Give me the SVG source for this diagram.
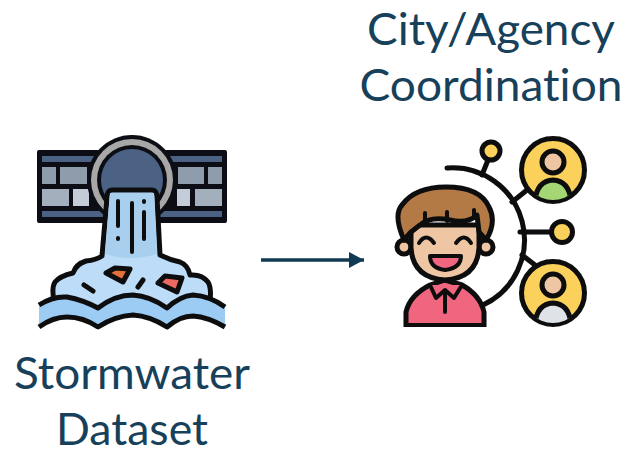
<svg xmlns="http://www.w3.org/2000/svg" width="631" height="455" viewBox="0 0 631 455">
<style>
.t{font-family:"Lato","Open Sans",sans-serif;font-size:45px;fill:#17405a;text-anchor:middle;font-variant-ligatures:none}
.k{stroke:#0b0d10;stroke-width:4;stroke-linejoin:round;stroke-linecap:round}
.n{fill:none}
.k2{stroke:#0b0d10;stroke-width:5;stroke-linejoin:round;stroke-linecap:round}
</style>
<defs>
<filter id="b" x="-5%" y="-5%" width="110%" height="110%"><feGaussianBlur stdDeviation="0.7"/></filter>
<marker id="ah" markerUnits="userSpaceOnUse" markerWidth="16" markerHeight="16" refX="15" refY="8" orient="auto"><path d="M0 0L15 8L0 16Z" fill="#0f3a52"/></marker>
<clipPath id="p1"><circle cx="553" cy="170" r="30"/></clipPath>
<clipPath id="p2"><circle cx="553" cy="293" r="30"/></clipPath>
<clipPath id="bc"><rect x="395" y="180" width="100" height="147"/></clipPath>
</defs>
<g id="stormwater-dataset">
<g filter="url(#b)">
<rect x="37" y="150" width="190" height="73" fill="#0d1116" rx="2"/>
<rect x="42" y="156" width="180" height="6" fill="#4b6285"/>
<rect x="42" y="211" width="180" height="6" fill="#4b6285"/>
<rect x="42" y="167" width="14" height="17" fill="#8f9cab"/><rect x="60" y="167" width="27" height="17" fill="#8f9cab"/>
<rect x="42" y="189" width="27" height="17" fill="#a3afbd"/><rect x="73" y="189" width="16" height="17" fill="#c4ccd8"/>
<rect x="178" y="167" width="26" height="17" fill="#8f9cab"/><rect x="208" y="167" width="14" height="17" fill="#8f9cab"/>
<rect x="177" y="189" width="13" height="17" fill="#c4ccd8"/><rect x="195" y="189" width="27" height="17" fill="#a3afbd"/>
<circle cx="132" cy="180" r="45" fill="#0d1116"/>
<circle cx="132" cy="180" r="41" fill="#a8a8a8"/>
<circle cx="132" cy="180" r="35" fill="#0d1116"/>
<circle cx="132" cy="180" r="31" fill="#4b6285"/>
<path class="k2" d="M112 190H152Q157 190 157 198L160 255Q170 260 180 262Q188 265 190 275Q202 274 208 282Q213 290 208 312L57 312Q50 290 55 282Q60 276 73 273Q76 264 86 261Q96 260 102 256L107 198Q107 190 112 190Z" fill="#bcdcf8"/>
<path d="M110 193H154L157 254Q130 262 105 254Z" fill="#a9cfee"/>
<path class="k" d="M118 201V226M118 238V239M132 203V252M144 201V202M144 212V239"/>
<path class="k2" d="M106 273L115 268L130 269L123 282Z" fill="#e2703a"/>
<path class="k2" d="M158 283L165 276L182 278L177 292Z" fill="#ea6a5e"/>
<path class="k2" d="M84 285L93 291M143 280L138 287"/>
<path d="M39 305Q53 296 67 297Q83 300 98 308Q115 295 133 295Q150 296 167 308Q180 296 193 295Q210 296 225 307V327Q208 317 193 316Q180 316 167 327Q150 316 133 315Q115 316 98 327Q83 317 67 317Q53 317 39 327Z" fill="#9ccbf4"/>
<path class="k2 n" style="stroke-linecap:butt" d="M39 305Q53 296 67 297Q83 300 98 308Q115 295 133 295Q150 296 167 308Q180 296 193 295Q210 296 225 307"/>
<path class="k2 n" style="stroke-linecap:butt" d="M225 327Q208 317 193 316Q180 316 167 327Q150 316 133 315Q115 316 98 327Q83 317 67 317Q53 317 39 327"/>
</g>
<text class="t" x="132" y="389" textLength="236" lengthAdjust="spacingAndGlyphs">Stormwater</text>
<text class="t" x="132" y="445" textLength="152" lengthAdjust="spacingAndGlyphs">Dataset</text>
</g>
<g id="city-agency-coordination">
<g filter="url(#b)">
<path class="k2 n" d="M447 168A72 72 0 0 1 483 305"/>
<path class="k2 n" d="M490 155L482 175M512 202L527 190M520 232H552M522 255L535 265"/>
<circle class="k2" cx="491" cy="151" r="9" fill="#fbd15b"/>
<circle class="k2" cx="562" cy="232" r="10.500" fill="#fbd15b"/>
<circle class="k2" cx="553" cy="170" r="31.500" fill="#fbd15b"/>
<g clip-path="url(#p1)"><path class="k2" d="M535 203Q536 181 553 180Q570 181 571 203Z" fill="#a4d673"/></g>
<circle class="k2" cx="553" cy="162" r="11" fill="#eec6a4"/>
<circle class="k2" cx="553" cy="293" r="31.500" fill="#fbd15b"/>
<g clip-path="url(#p2)"><path class="k2" d="M535 326Q536 304 553 303Q570 304 571 326Z" fill="#dfe3e8"/></g>
<circle class="k2" cx="553" cy="285" r="11" fill="#eec6a4"/>
<g clip-path="url(#bc)"><path class="k2" d="M406 335V312Q410 295 430 285L445 280L462 285Q480 295 484 312V335Z" fill="#f0667f"/></g>
<rect x="404" y="323" width="82" height="4" fill="#0b0d10"/>
<path class="k" d="M430 285L436 298L445 290L454 298L462 285M445 290V312" fill="#f0667f"/>
<circle class="k2" cx="404" cy="247" r="7" fill="#eec6a4"/>
<circle class="k2" cx="486" cy="247" r="7" fill="#eec6a4"/>
<path class="k2" d="M411 225V248Q413 278 445 280Q477 278 479 248V225Z" fill="#eec6a4"/>
<path class="k2" d="M404 240Q393 215 402 205Q415 187 446 187Q480 187 489 207Q497 222 486 240L479 232L477 215Q468 224 450 220Q430 216 420 225L411 232Z" fill="#b47a44"/>
<path class="k" d="M425 213V222M447 212V221M474 210V218"/>
<path class="k n" d="M419 243Q426 232 434 243M456 243Q464 232 471 243"/>
<path class="k" d="M430 256H461Q461 268 445 270Q430 268 430 256Z" fill="#f0667f"/>
</g>
<text class="t" x="491" y="45" textLength="248" lengthAdjust="spacingAndGlyphs">City/Agency</text>
<text class="t" x="491" y="101" textLength="263" lengthAdjust="spacingAndGlyphs">Coordination</text>
</g>
<g id="connectors">
<line x1="261" y1="260" x2="364" y2="260" stroke="#0f3a52" stroke-width="3.500" marker-end="url(#ah)"/>
</g>
</svg>
